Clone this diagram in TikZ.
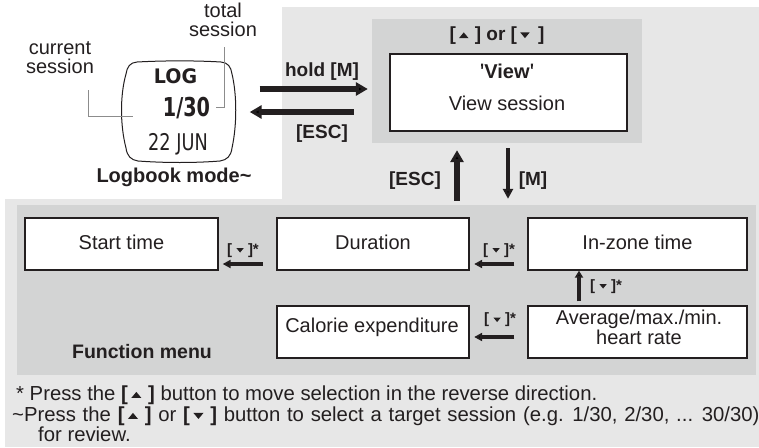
\documentclass[tikz,border=0pt]{standalone}
\usepackage{fontspec}
\usepackage{graphicx}
\setmainfont{Liberation Sans}
\newfontfamily\lcdfont{DejaVu Sans}
\usetikzlibrary{arrows.meta,calc}
\definecolor{ink}{HTML}{231F20}
\definecolor{bgl}{HTML}{E7E7E7}
\definecolor{bgd}{HTML}{D3D4D4}
\definecolor{callout}{HTML}{8C8C8C}
\newcommand{\fs}[1]{\fontsize{#1}{#1}\selectfont}
\newcommand{\tup}{\tikz[baseline=0pt,x=1em,y=1em]\fill[ink] (0,0.1) -- (0.5,0.1) -- (0.25,0.4) -- cycle;}
\newcommand{\tdn}{\tikz[baseline=0pt,x=1em,y=1em]\fill[ink] (0,0.4) -- (0.5,0.4) -- (0.25,0.1) -- cycle;}
\newcommand{\sq}{\hspace{0.06em}\tikz[baseline=0pt,x=1em,y=1em]\fill[ink] (0,0.72) -- (0.11,0.72) -- (0.085,0.46) -- (0.025,0.46) -- cycle;\hspace{0.06em}}
\newcommand{\kup}{\textbf{[\,\tup\,\,]}}
\newcommand{\kdn}{\textbf{[\,\tdn\,\,]}}
\begin{document}
\begin{tikzpicture}[x=1pt,y=-1pt, font=\fs{20}, text=ink,
  panel/.style={fill=bgd, draw=none, inner sep=0pt},
  fbox/.style={draw=ink, line width=1.3pt, fill=white, inner sep=0pt, minimum height=52pt},
  lab/.style={anchor=base, inner sep=0pt, align=center},
  blab/.style={anchor=base, inner sep=0pt, font=\fs{19}\bfseries},
  keylab/.style={anchor=base, inner sep=0pt, font=\fs{15}\bfseries},
  note/.style={anchor=base west, inner sep=0pt, font=\fs{20.3}},
  bigarrow/.style={draw=ink, line width=6pt, -{Triangle[length=12pt,width=13pt]}},
  midarrow/.style={draw=ink, line width=4.5pt, -{Triangle[length=10pt,width=10pt]}},
  smallarrow/.style={draw=ink, line width=3.5pt, -{Triangle[length=8pt,width=8pt]}},
  calloutline/.style={draw=callout, line width=1pt}]
\useasboundingbox (0,0) rectangle (759,447);
% backgrounds
\fill[bgl] (5,7) rectangle (759,447);
\fill[white] (0,0) rectangle (282,199);
\node[panel, minimum width=739pt, minimum height=170pt] (fm) at (386.5,290) {};
\node[panel, minimum width=270pt, minimum height=124pt] (vp) at (507,81) {};
% watch
\node[inner sep=0pt, minimum width=114pt, minimum height=100pt] (watch) at (179,111.5) {};
\draw[ink, line width=1pt] (137,62) .. controls (165,60.5) and (195,60.5) .. (221,62)
  .. controls (228,62.5) and (231,67) .. (232,74)
  .. controls (237,95) and (237,125) .. (232,148)
  .. controls (231,156) and (227,160) .. (220,161)
  .. controls (195,163) and (165,163) .. (138,161)
  .. controls (131,160) and (127,156) .. (126,148)
  .. controls (120,125) and (120,95) .. (126,74)
  .. controls (127,67) and (130,62.5) .. (137,62) -- cycle;
\node[lab, font=\lcdfont\bfseries\fs{20}] (wlog) at (175.5,83) {\scalebox{0.95}[1]{LOG}};
\node[lab, font=\lcdfont\bfseries\fs{26}] (wses) at (186.5,116) {\scalebox{0.74}[1]{1/30}};
\node[lab, font=\lcdfont\fs{23}] (wdate) at (178,150) {\scalebox{0.77}[1]{22 JUN}};
% callouts
\node[lab, font=\fontsize{20}{19}\selectfont] (cur) at (60,73) {current\\session};
\node[lab, font=\fontsize{20}{19}\selectfont] (tot) at (223,36) {total\\session};
\coordinate (curA) at (88,90);
\coordinate (curB) at (133,116);
\coordinate (totA) at (224,47);
\coordinate (totB) at (216,107);
\draw[calloutline] (curA) |- (curB);
\draw[calloutline] (totA) |- (totB);
\node[lab, font=\fs{20}\bfseries] (logbook) at (174,182) {Logbook mode\textasciitilde};
% view box
\node[fbox, minimum width=237pt, minimum height=77pt] (view) at (508.5,92.5) {};
\node[lab, font=\fs{20}\bfseries] (viewt) at (507,78) {\sq View\sq};
\node[lab] (views) at (507,110) {View session};
\node[blab] (updn) at (497,40) {[\,\tup\,\,] or [\,\tdn\ \,]};
% top arrows
\draw[bigarrow] ($(watch.east)+(23.5,-22.5)$) -- ($(vp.west)+(-4,8)$);
\draw[bigarrow] ($(vp.west)+(-18,31)$) -- ($(watch.east)+(13.5,0.5)$);
\node[blab] (holdm) at (322,76) {hold [M]};
\node[blab] (esc1) at (322,138) {[ESC]};
\draw[bigarrow] ($(fm.north)+(70.5,-4)$) -- ($(vp.south)+(-50,7)$);
\draw[midarrow] ($(vp.south)+(1,5)$) -- ($(fm.north)+(121.5,-6)$);
\node[blab] (esc2) at (415,185) {[ESC]};
\node[blab] (mkey) at (533,185) {[M]};
% function menu boxes
\node[fbox, minimum width=193pt] (start) at (121.5,244) {};
\node[fbox, minimum width=192pt] (dur) at (373,244) {};
\node[fbox, minimum width=219pt] (inz) at (637.5,244) {};
\node[fbox, minimum width=192pt] (cal) at (373,332) {};
\node[fbox, minimum width=219pt] (avg) at (637.5,332) {};
\node[lab] (startt) at (121.5,249) {Start time};
\node[lab] (durt) at (373,249) {Duration};
\node[lab] (inzt) at (637.5,249) {In-zone time};
\node[lab] (calt) at (372,332) {Calorie expenditure};
\node[lab, font=\fontsize{20}{18}\selectfont] (avgt) at (639,344) {Average/max./min.\\heart rate};
\node[lab, font=\fs{19.5}\bfseries] (fmt) at (142,358) {Function menu};
% function arrows
\draw[smallarrow] ($(dur.west)+(-13.5,20)$) -- ($(start.east)+(4,20)$);
\draw[smallarrow] ($(inz.west)+(-13,20)$) -- ($(dur.east)+(4.5,20)$);
\draw[smallarrow] ($(avg.west)+(-13,5)$) -- ($(cal.east)+(4.5,5)$);
\draw[draw=ink, line width=4.5pt, -{Triangle[length=7pt,width=8pt]}] ($(avg.north)+(-58.5,-4)$) -- ($(inz.south)+(-58.5,0)$);
\node[keylab] (k1) at (243,254) {[\ \tdn\ ]*};
\node[keylab] (k2) at (499,254) {[\ \tdn\ ]*};
\node[keylab] (k3) at (500,323.5) {[\ \tdn\ ]*};
\node[keylab] (k4) at (606,290) {[\ \tdn\ ]*};
% footnotes
\node[note] (n1) at (16,400) {* Press the \kup{} button to move selection in the reverse direction.};
\node[note] (n2) at (12,421) {\spaceskip=0.335em\relax\textasciitilde Press the \kup{} or \kdn{} button to select a target session (e.g. 1/30, 2/30, ... 30/30)};
\node[note] (n3) at (38,441) {for review.};
\end{tikzpicture}
\end{document}
